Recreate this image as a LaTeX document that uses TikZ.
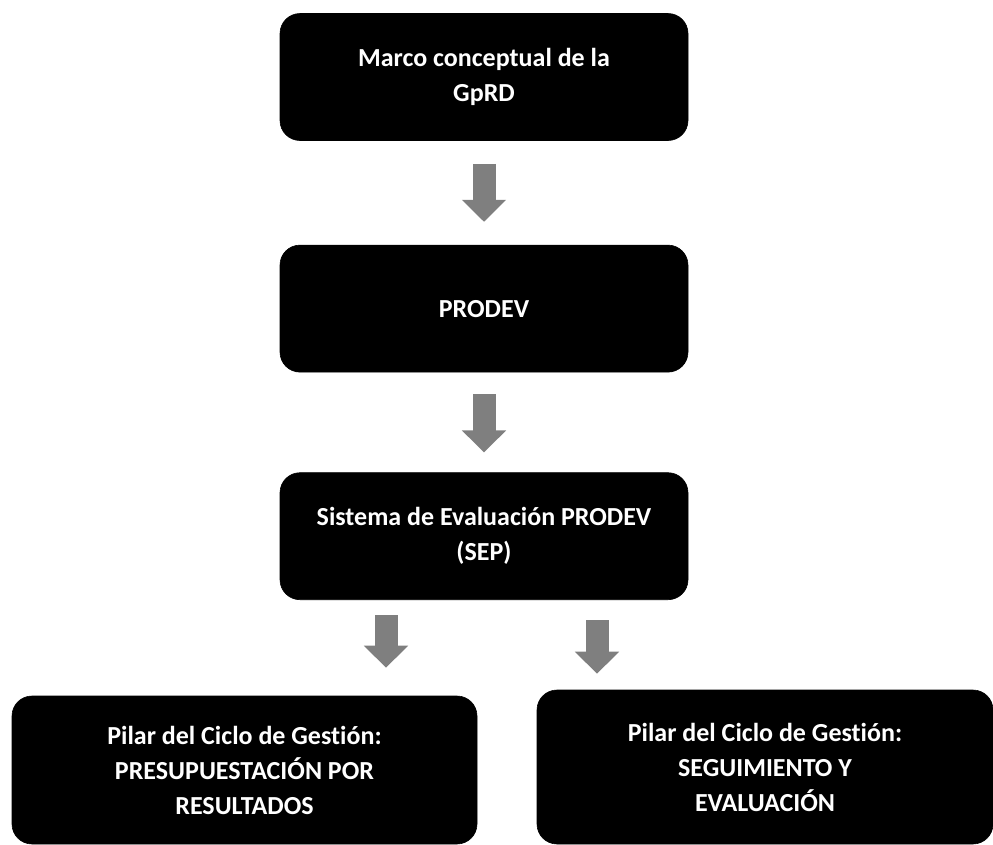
\documentclass[tikz,border=0pt]{standalone}
\usepackage{fontspec}
\setmainfont{Carlito}[Ligatures=NoCommon]
\usetikzlibrary{arrows.meta,positioning,calc}
\definecolor{boxfill}{HTML}{000000}
\definecolor{arrowgray}{HTML}{7F7F7F}
\tikzset{
  blkbox/.style={rectangle,rounded corners=20pt,draw=boxfill,fill=boxfill,line width=0.6pt,
                 text=white,align=center,font=\bfseries\fontsize{26}{35}\selectfont,
                 inner sep=4pt,minimum width=408pt,minimum height=127pt},
  pilar/.style={blkbox,minimum height=150pt},
  down/.style={-{Triangle[width=43pt,length=22pt]},line width=23pt,draw=arrowgray},
}

\begin{document}
\begin{tikzpicture}[x=1pt,y=1pt,node distance=104pt]
\useasboundingbox (0,0) rectangle (993,-844);
\node[blkbox] (marco) at (484,-77) {Marco conceptual de la\\GpRD};
\node[blkbox, below=104pt of marco] (prodev) {PRODEV};
\node[blkbox, below=100pt of prodev] (sep) {Sistema de Evaluación PRODEV\\(SEP)};
\node[pilar, minimum width=465pt, minimum height=148pt] (presup) at (244.5,-770) {Pilar del Ciclo de Gestión:\\PRESUPUESTACIÓN POR\\RESULTADOS};
\node[pilar, minimum width=456pt, minimum height=154pt] (segui) at (765,-767) {Pilar del Ciclo de Gestión:\\SEGUIMIENTO Y\\EVALUACIÓN};
% flechas
\draw[down, shorten <=23pt, shorten >=23pt] (marco) -- (prodev);
\draw[down, shorten <=22pt, shorten >=20pt] (prodev) -- (sep);
\draw[down, shorten <=15pt, shorten >=28pt] ([xshift=-98pt]sep.south) -- ([xshift=-98pt]sep.south |- presup.north);
\draw[down, shorten <=20pt, shorten >=16pt] ([xshift=113pt]sep.south) -- ([xshift=113pt]sep.south |- segui.north);
\end{tikzpicture}
\end{document}
